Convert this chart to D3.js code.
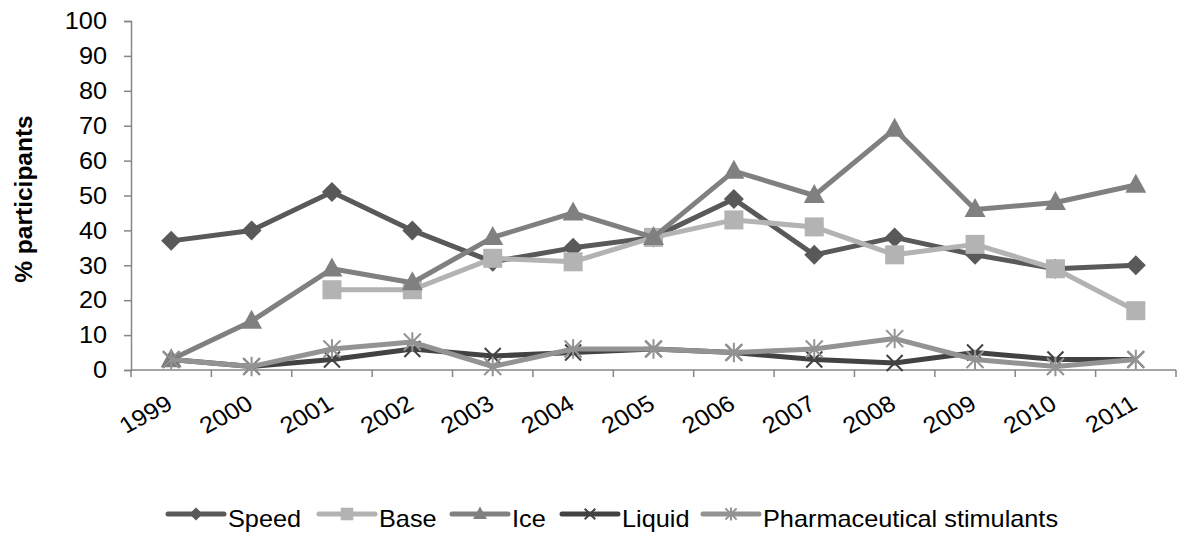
<!DOCTYPE html>
<html>
<head>
<meta charset="utf-8">
<script src="https://cdn.jsdelivr.net/npm/d3@7"></script>
<style>
  html, body { margin: 0; padding: 0; background: #fff; }
  svg { display: block; font-family: "Liberation Sans", Arial, sans-serif; }
</style>
</head>
<body>
<svg id="chart" width="1177" height="536"></svg>
<script>
// Survey years and share of participants reporting each stimulant form
const years = ["1999","2000","2001","2002","2003","2004","2005","2006","2007","2008","2009","2010","2011"];
const speed  = [37, 40, 51, 40, 31, 35, 38, 49, 33, 38, 33, 29, 30];
const base   = [null, null, 23, 23, 32, 31, 38, 43, 41, 33, 36, 29, 17];
const ice    = [3, 14, 29, 25, 38, 45, 38, 57, 50, 69, 46, 48, 53];
const liquid = [3, 1, 3, 6, 4, 5, 6, 5, 3, 2, 5, 3, 3];
const pharma = [3, 1, 6, 8, 1, 6, 6, 5, 6, 9, 3, 1, 3];
const yTicks = [0, 10, 20, 30, 40, 50, 60, 70, 80, 90, 100];

const series = [
  { name: "Speed", values: speed, color: "#595959", symbol: "diamond" },
  { name: "Base", values: base, color: "#b3b3b3", symbol: "square" },
  { name: "Ice", values: ice, color: "#808080", symbol: "triangle" },
  { name: "Liquid", values: liquid, color: "#424242", symbol: "x" },
  { name: "Pharmaceutical stimulants", values: pharma, color: "#939393", symbol: "star" }
];

const svg = d3.select("#chart");
const W = 1177, H = 536;
const margin = { left: 131, right: 1, top: 21, bottom: 166 };
const FONT = 23, STRETCH = 1.1;

const x = d3.scaleBand().domain(years).range([margin.left, W - margin.right]);
const y = d3.scaleLinear().domain([0, 100]).range([H - margin.bottom, margin.top]);
const cx = d => x(d) + x.bandwidth() / 2;

const axisColor = "#868686";

// Y axis line and ticks
const yAxis = svg.append("g")
  .attr("transform", `translate(${margin.left},0)`)
  .call(d3.axisLeft(y).tickValues(yTicks).tickSize(7).tickFormat(""));
yAxis.select(".domain").attr("stroke", axisColor).attr("stroke-width", 1.5);
yAxis.selectAll(".tick line").attr("stroke", axisColor).attr("stroke-width", 1.5);

// Y tick labels, slightly wide glyphs
svg.append("g").selectAll("text").data(yTicks).join("text")
  .attr("transform", d => `translate(${margin.left - 24},${y(d)}) scale(${STRETCH},1)`)
  .attr("text-anchor", "end")
  .attr("dy", "0.36em")
  .attr("font-size", FONT)
  .attr("fill", "#000")
  .text(d => d);

// X axis: line plus ticks on band boundaries
const xAxisG = svg.append("g").attr("transform", `translate(0,${y(0)})`);
xAxisG.append("line")
  .attr("x1", margin.left).attr("x2", W - margin.right)
  .attr("stroke", axisColor).attr("stroke-width", 1.5);
const bounds = years.map(d => x(d)).concat([x(years[years.length - 1]) + x.bandwidth()]);
xAxisG.selectAll("line.tk").data(bounds).join("line").attr("class", "tk")
  .attr("x1", d => d).attr("x2", d => d).attr("y1", 0).attr("y2", 7)
  .attr("stroke", axisColor).attr("stroke-width", 1.5);
xAxisG.selectAll("text").data(years).join("text")
  .attr("transform", d => `translate(${cx(d) + 3},38) scale(${STRETCH},1) rotate(-31)`)
  .attr("text-anchor", "end")
  .attr("font-size", FONT)
  .attr("fill", "#000")
  .text(d => d);

// Y axis title
svg.append("text")
  .attr("transform", `translate(32,199) rotate(-90)`)
  .attr("text-anchor", "middle")
  .attr("font-size", 24.5)
  .attr("font-weight", "bold")
  .attr("fill", "#000")
  .text("% participants");

// Marker shapes
function marker(sel, symbol, color, k) {
  if (symbol === "diamond") {
    const s = 10 * k;
    sel.append("path").attr("d", `M0,${-s}L${s},0L0,${s}L${-s},0Z`).attr("fill", color);
  } else if (symbol === "square") {
    const s = 19 * k;
    sel.append("rect").attr("x", -s / 2).attr("y", -s / 2)
      .attr("width", s).attr("height", s).attr("fill", color);
  } else if (symbol === "triangle") {
    const w = 10.5 * k, h = 19 * k;
    sel.append("path").attr("d", `M0,${-h * 0.6}L${w},${h * 0.4}L${-w},${h * 0.4}Z`)
      .attr("fill", color);
  } else if (symbol === "x") {
    const s = 8 * k;
    sel.append("path").attr("d", `M${-s},${-s}L${s},${s}M${-s},${s}L${s},${-s}`)
      .attr("stroke", color).attr("stroke-width", 2).attr("fill", "none");
  } else if (symbol === "star") {
    const s = 8.5 * k;
    sel.append("path")
      .attr("d", `M${-s},${-s}L${s},${s}M${-s},${s}L${s},${-s}M0,${-s * 1.15}L0,${s * 1.15}`)
      .attr("stroke", color).attr("stroke-width", 2).attr("fill", "none");
  }
}

const line = d3.line()
  .defined(d => d.v !== null)
  .x(d => cx(d.year))
  .y(d => y(d.v));

series.forEach(s => {
  const pts = years.map((yr, i) => ({ year: yr, v: s.values[i] }));
  const g = svg.append("g");
  g.append("path")
    .datum(pts)
    .attr("d", line)
    .attr("fill", "none")
    .attr("stroke", s.color)
    .attr("stroke-width", 5)
    .attr("stroke-linejoin", "round");
  g.selectAll("g.pt").data(pts.filter(p => p.v !== null)).join("g").attr("class", "pt")
    .attr("transform", p => `translate(${cx(p.year)},${y(p.v)})`)
    .each(function () { marker(d3.select(this), s.symbol, s.color, 1); });
});

// Legend
const legendX = [168, 319, 452, 562, 703];
const legendY = 514;
series.forEach((s, i) => {
  const lx = legendX[i];
  const g = svg.append("g");
  g.append("line").attr("x1", lx).attr("x2", lx + 56).attr("y1", legendY).attr("y2", legendY)
    .attr("stroke", s.color).attr("stroke-width", 5).attr("stroke-linecap", "round");
  const m = g.append("g").attr("transform", `translate(${lx + 28},${legendY})`);
  marker(m, s.symbol, s.color, 0.66);
  g.append("text")
    .attr("transform", `translate(${lx + 60},${legendY + 13}) scale(${STRETCH},1)`)
    .attr("font-size", FONT).attr("fill", "#000").text(s.name);
});
</script>
</body>
</html>
